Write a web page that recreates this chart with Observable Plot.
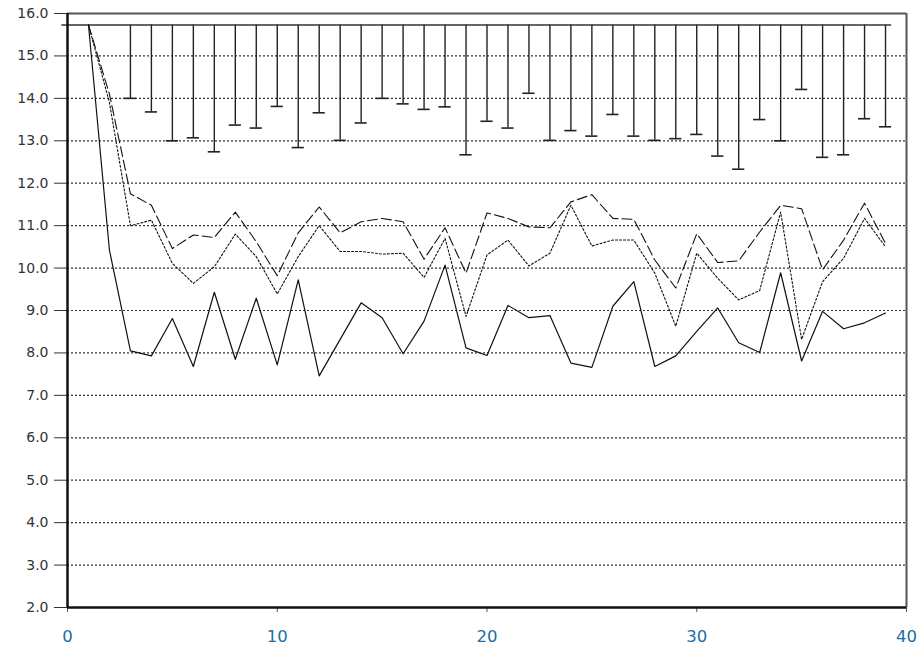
<!DOCTYPE html>
<html>
<head>
<meta charset="utf-8">
<script src="https://cdn.jsdelivr.net/npm/d3@7"></script>
<script src="https://cdn.jsdelivr.net/npm/@observablehq/plot@0.6"></script>
<style>
  html, body { margin: 0; padding: 0; background: #fff; }
  #chart svg { display: block; }
</style>
</head>
<body>
<div id="chart"></div>
<script>
// ---- data ----
const xs = d3.range(1, 40); // 1..39
const solidSeries = [15.73, 10.42, 8.05, 7.93, 8.81, 7.68, 9.43, 7.85, 9.29, 7.72, 9.72, 7.46, 8.32, 9.18, 8.83, 7.98, 8.75, 10.07, 8.12, 7.94, 9.12, 8.83, 8.88, 7.76, 7.66, 9.10, 9.68, 7.68, 7.93, 8.51, 9.06, 8.24, 8.01, 9.89, 7.81, 8.98, 8.57, 8.71, 8.94];
const dashedSeries = [15.73, 14.1, 11.75, 11.48, 10.46, 10.78, 10.72, 11.32, 10.62, 9.82, 10.83, 11.44, 10.83, 11.09, 11.17, 11.09, 10.21, 10.95, 9.88, 11.30, 11.17, 10.97, 10.95, 11.56, 11.73, 11.17, 11.15, 10.19, 9.53, 10.81, 10.13, 10.17, 10.85, 11.48, 11.40, 9.96, 10.66, 11.53, 10.58];
const dottedSeries = [15.73, 13.9, 11.0, 11.13, 10.11, 9.64, 10.03, 10.80, 10.27, 9.39, 10.27, 11.0, 10.39, 10.39, 10.33, 10.35, 9.78, 10.70, 8.86, 10.31, 10.66, 10.05, 10.35, 11.48, 10.52, 10.66, 10.66, 9.88, 8.63, 10.35, 9.76, 9.25, 9.47, 11.32, 8.32, 9.68, 10.23, 11.17, 10.50];
const barX = d3.range(3, 40); // 3..39
const barMin = [14.0, 13.68, 13.0, 13.07, 12.74, 13.37, 13.30, 13.81, 12.84, 13.66, 13.01, 13.42, 14.0, 13.87, 13.74, 13.80, 12.67, 13.46, 13.30, 14.12, 13.01, 13.24, 13.11, 13.62, 13.11, 13.01, 13.05, 13.15, 12.64, 12.33, 13.50, 13.0, 14.21, 12.61, 12.67, 13.52, 13.33];
const ceiling = 15.73;
const ceilingFrom = -0.27;
const ceilingTo = 39.29;
const capHalf = 0.29;
const yTicks = d3.range(2, 17); // 2.0 .. 16.0
const xTicks = [0, 10, 20, 30, 40];
const gridTicks = d3.range(3, 16);

// ---- tables ----
const solid = xs.map((x, i) => ({x, y: solidSeries[i]}));
const dashed = xs.map((x, i) => ({x, y: dashedSeries[i]}));
const dotted = xs.map((x, i) => ({x, y: dottedSeries[i]}));
const bars = barX.map((x, i) => ({x, lo: barMin[i]}));

const chart = Plot.plot({
  width: 920,
  height: 647,
  marginLeft: 67,
  marginRight: 14,
  marginTop: 13,
  marginBottom: 40,
  style: {background: "#fff", overflow: "visible"},
  x: {domain: [0, 40]},
  y: {domain: [2, 16]},
  marks: [
    // dotted grid
    Plot.ruleY(gridTicks, {stroke: "#333", strokeWidth: 1.2, strokeDasharray: "2,2"}),
    // y axis
    Plot.axisY({ticks: yTicks, tickFormat: d => d.toFixed(1), tickSize: 13, tickPadding: 6,
      fontSize: 14, fontFamily: "DejaVu Sans", stroke: "#333", color: "#333", label: null}),
    // x axis
    Plot.axisX({ticks: xTicks, tickFormat: d => String(d), tickSize: 5, tickPadding: 18,
      fontSize: 16.5, fontFamily: "DejaVu Sans", color: "#1c6ea4", stroke: "#555", label: null}),
    // error bars hanging from the ceiling
    Plot.ruleX(bars, {x: "x", y1: "lo", y2: () => ceiling, stroke: "#222", strokeWidth: 1.4}),
    Plot.ruleY(bars, {y: "lo", x1: d => d.x - capHalf, x2: d => d.x + capHalf, stroke: "#222", strokeWidth: 1.6}),
    Plot.ruleY([ceiling], {x1: ceilingFrom, x2: ceilingTo, stroke: "#333", strokeWidth: 1.6}),
    // series
    Plot.line(dashed, {x: "x", y: "y", stroke: "#111", strokeWidth: 1.1, strokeDasharray: "10,4"}),
    Plot.line(dotted, {x: "x", y: "y", stroke: "#111", strokeWidth: 1.1, strokeDasharray: "2,2"}),
    Plot.line(solid, {x: "x", y: "y", stroke: "#111", strokeWidth: 1.2}),
    // frame
    Plot.ruleY([16], {stroke: "#555", strokeWidth: 2}),
    Plot.ruleX([40], {stroke: "#555", strokeWidth: 2}),
    Plot.ruleY([2], {stroke: "#111", strokeWidth: 2.5}),
    Plot.ruleX([0], {stroke: "#111", strokeWidth: 2.5})
  ]
});
document.getElementById("chart").appendChild(chart);
</script>
</body>
</html>
